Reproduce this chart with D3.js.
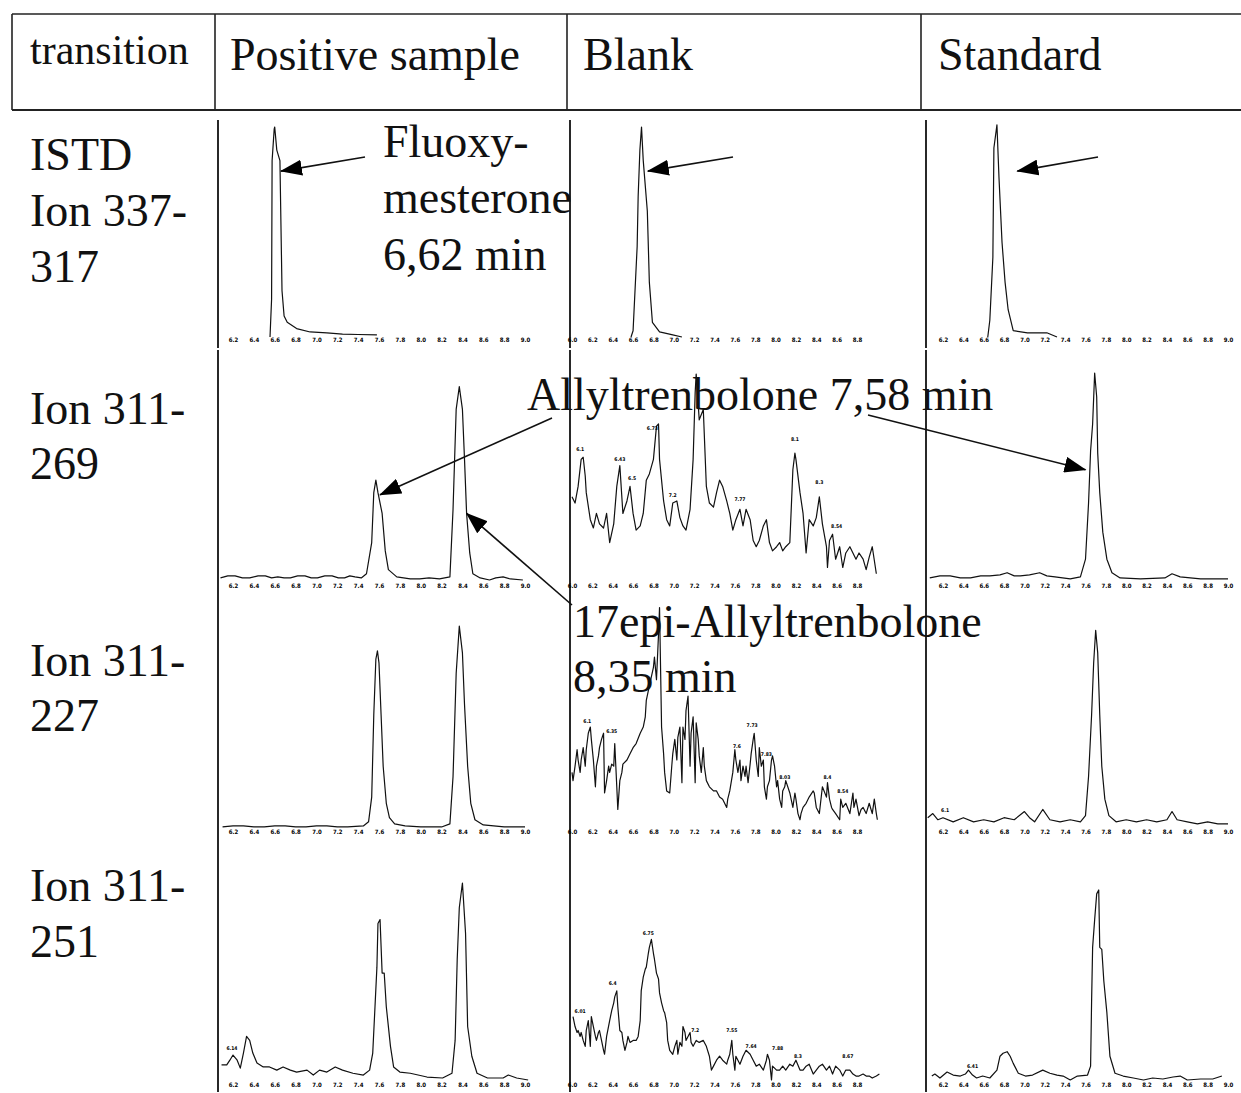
<!DOCTYPE html>
<html>
<head>
<meta charset="utf-8">
<title>Allyltrenbolone transitions</title>
<script src="https://cdn.jsdelivr.net/npm/d3@7/dist/d3.min.js"></script>
<style>
  body { margin: 0; background: #fff; }
  .big { font-family: "Liberation Serif", "Times New Roman", serif; fill: #111; }
  .tiny { font-family: "DejaVu Sans Condensed", "DejaVu Sans", sans-serif; font-weight: bold; fill: #000; }
</style>
</head>
<body>
<div id="fig"></div>
<script>
// header and row labels
var columns = ["transition", "Positive sample", "Blank", "Standard"];
var rowLabels = [["ISTD", "Ion 337-", "317"], ["Ion 311-", "269"], ["Ion 311-", "227"], ["Ion 311-", "251"]];

// retention time ticks (min)
var ticksPos = [6.2, 6.4, 6.6, 6.8, 7.0, 7.2, 7.4, 7.6, 7.8, 8.0, 8.2, 8.4, 8.6, 8.8, 9.0];
var ticksBlank = [6.0, 6.2, 6.4, 6.6, 6.8, 7.0, 7.2, 7.4, 7.6, 7.8, 8.0, 8.2, 8.4, 8.6, 8.8];
var ticksStd = [6.2, 6.4, 6.6, 6.8, 7.0, 7.2, 7.4, 7.6, 7.8, 8.0, 8.2, 8.4, 8.6, 8.8, 9.0];

// chromatograms: [time (min), relative intensity (%)]
// ISTD 337-317
var posIstd = [[6.555,0],[6.57,18],[6.575,84],[6.595,99],[6.60,100],[6.62,89],[6.65,84],[6.67,22],[6.69,10],[6.72,7],[6.81,4],[6.94,2.4],[7.1,2],[7.25,1.4],[7.4,1.2],[7.58,1]];
var blankIstd = [[6.58,0],[6.60,3],[6.64,43],[6.65,67],[6.667,89],[6.683,100],[6.70,84],[6.74,60],[6.76,26],[6.79,7],[6.86,2.4],[6.99,1],[7.08,0]];
var stdIstd = [[6.64,0],[6.66,8],[6.69,38],[6.70,90],[6.73,101],[6.75,76],[6.78,45],[6.81,26],[6.84,13],[6.89,3],[7.03,2],[7.22,2],[7.32,0]];

// 311-269
var pos269 = [[6.08,1],[6.15,2],[6.22,2],[6.29,1],[6.36,1],[6.44,2],[6.51,2],[6.57,1],[6.63,1.5],[6.69,1],[6.75,1],[6.82,2],[6.89,2],[6.95,1],[7.01,1],[7.08,2],[7.15,2],[7.21,1],[7.27,1],[7.32,2],[7.37,1.5],[7.43,1],[7.48,3],[7.53,18],[7.55,42],[7.57,48],[7.59,42],[7.63,32],[7.66,14],[7.69,5],[7.77,1.5],[7.90,0.5],[7.99,0.5],[8.08,1],[8.18,0.5],[8.28,1.5],[8.31,34],[8.34,82],[8.37,93],[8.40,82],[8.42,58],[8.44,32],[8.47,13],[8.50,3],[8.57,1],[8.66,0],[8.72,1],[8.79,1.5],[8.86,0.5],[8.98,0]];
var blank269 = [[6.00,40],[6.03,37],[6.06,45],[6.09,58],[6.11,59],[6.13,50],[6.14,42],[6.18,29],[6.21,25],[6.24,32],[6.27,27],[6.31,25],[6.34,32],[6.37,18],[6.41,27],[6.44,45],[6.47,55],[6.50,32],[6.54,38],[6.57,45],[6.60,32],[6.63,24],[6.67,26],[6.70,32],[6.73,48],[6.76,51],[6.80,58],[6.83,74],[6.85,75],[6.86,58],[6.90,38],[6.93,29],[6.96,26],[6.99,37],[7.03,38],[7.06,30],[7.09,26],[7.12,24],[7.16,34],[7.19,58],[7.21,90],[7.22,99],[7.25,77],[7.29,82],[7.32,45],[7.35,37],[7.39,35],[7.42,42],[7.45,48],[7.48,45],[7.52,38],[7.55,32],[7.58,24],[7.61,29],[7.65,34],[7.68,26],[7.71,34],[7.75,29],[7.78,19],[7.81,16],[7.84,19],[7.88,26],[7.91,29],[7.94,18],[7.97,14],[8.01,16],[8.04,18],[8.07,14],[8.10,16],[8.14,18],[8.17,53],[8.19,61],[8.20,58],[8.24,42],[8.27,32],[8.30,13],[8.33,29],[8.37,26],[8.40,30],[8.43,40],[8.46,27],[8.50,16],[8.51,6],[8.53,19],[8.56,22],[8.59,10],[8.63,16],[8.66,6],[8.69,13],[8.73,16],[8.76,13],[8.79,10],[8.82,13],[8.86,10],[8.89,5],[8.92,11],[8.95,16],[8.99,3]];
var std269 = [[6.07,1],[6.17,2],[6.27,2],[6.37,1],[6.47,1],[6.57,2],[6.66,2],[6.76,2.5],[6.83,3.5],[6.90,2],[6.96,2],[7.05,2.5],[7.15,3.5],[7.22,2],[7.30,1.5],[7.45,0.5],[7.55,1.5],[7.60,10],[7.63,37],[7.65,62],[7.67,75],[7.69,99.5],[7.71,88],[7.72,61],[7.74,42],[7.77,23],[7.81,10],[7.86,3.5],[7.94,1],[8.14,0.5],[8.38,1],[8.45,3],[8.53,1.5],[8.73,0.5],[9.0,0.5]];

// 311-227
var pos227 = [[6.1,0.5],[6.2,1],[6.3,1],[6.4,0.5],[6.5,0.5],[6.6,1],[6.7,1],[6.8,0.5],[6.9,0.5],[7.0,1],[7.1,1],[7.2,0.5],[7.3,0.5],[7.45,1],[7.50,3],[7.53,15],[7.55,55],[7.57,82],[7.585,86],[7.60,80],[7.62,55],[7.64,30],[7.67,12],[7.70,5],[7.75,2],[7.85,1],[8.0,0.5],[8.2,0.5],[8.28,2],[8.31,25],[8.34,75],[8.37,98],[8.40,85],[8.42,60],[8.45,30],[8.48,12],[8.52,4],[8.6,1.5],[8.8,0.5],[9.0,0.5]];
var blank227 = [[6.00,27],[6.01,23],[6.03,30],[6.05,38],[6.06,33],[6.08,27],[6.09,33],[6.11,39],[6.13,30],[6.14,38],[6.16,46],[6.18,49],[6.19,43],[6.21,33],[6.23,20],[6.24,30],[6.26,35],[6.27,39],[6.29,43],[6.31,46],[6.32,17],[6.34,23],[6.36,30],[6.37,27],[6.39,31],[6.41,30],[6.42,41],[6.44,20],[6.45,9],[6.47,23],[6.49,27],[6.50,31],[6.54,33],[6.57,36],[6.60,39],[6.63,41],[6.67,46],[6.70,49],[6.72,54],[6.73,62],[6.76,69],[6.80,78],[6.81,83],[6.83,72],[6.85,94],[6.86,107],[6.88,49],[6.90,36],[6.91,27],[6.93,18],[6.96,17],[6.98,30],[6.99,36],[7.01,43],[7.03,33],[7.04,44],[7.06,49],[7.08,22],[7.09,49],[7.11,43],[7.12,57],[7.14,64],[7.16,30],[7.17,46],[7.19,54],[7.21,22],[7.22,51],[7.24,43],[7.25,35],[7.27,27],[7.29,39],[7.30,30],[7.32,23],[7.35,20],[7.39,18],[7.42,18],[7.45,15],[7.48,14],[7.52,10],[7.53,14],[7.55,18],[7.58,27],[7.60,38],[7.61,33],[7.63,27],[7.65,33],[7.66,23],[7.68,30],[7.70,25],[7.71,30],[7.73,22],[7.75,31],[7.76,36],[7.78,43],[7.79,46],[7.81,33],[7.83,25],[7.84,39],[7.86,30],[7.88,33],[7.89,20],[7.91,14],[7.92,20],[7.94,23],[7.96,33],[7.97,35],[7.99,30],[8.01,20],[8.02,23],[8.04,14],[8.06,10],[8.07,18],[8.09,20],[8.10,23],[8.14,17],[8.17,10],[8.19,17],[8.20,14],[8.22,7],[8.24,4],[8.25,7],[8.27,10],[8.30,12],[8.33,15],[8.37,18],[8.38,17],[8.40,10],[8.43,7],[8.46,20],[8.50,15],[8.51,22],[8.53,14],[8.55,10],[8.56,9],[8.59,7],[8.63,4],[8.64,14],[8.66,10],[8.69,12],[8.73,7],[8.76,17],[8.77,10],[8.79,14],[8.82,6],[8.84,9],[8.86,10],[8.89,7],[8.92,12],[8.95,7],[8.97,14],[8.99,7],[9.00,4]];
var std227 = [[6.05,5],[6.1,7],[6.15,4],[6.2,5],[6.3,3],[6.4,5],[6.5,3],[6.6,4],[6.7,3],[6.8,5],[6.9,4],[7.0,8],[7.05,5],[7.1,3],[7.18,9],[7.25,4],[7.35,3],[7.45,4],[7.55,3],[7.6,6],[7.63,25],[7.66,55],[7.68,80],[7.70,96],[7.72,85],[7.74,55],[7.76,30],[7.79,14],[7.83,6],[7.9,3],[8.0,4],[8.1,3],[8.2,4],[8.3,3],[8.4,4],[8.45,8],[8.5,4],[8.6,3],[8.7,2],[8.8,3],[8.9,2],[9.0,2]];

// 311-251
var pos251 = [[6.09,7.6],[6.14,7.6],[6.17,10],[6.20,12.6],[6.24,10],[6.27,6],[6.30,13.6],[6.33,22],[6.36,20],[6.39,13.6],[6.43,8.6],[6.49,6.6],[6.55,6.6],[6.62,5],[6.68,6.6],[6.75,5],[6.81,4],[6.91,5],[6.97,2.5],[7.03,5],[7.10,4],[7.18,6.6],[7.25,5],[7.35,3.4],[7.45,2.5],[7.51,5],[7.54,13.6],[7.58,57],[7.59,79],[7.61,81],[7.63,54],[7.65,54],[7.67,37],[7.71,17],[7.74,6.6],[7.80,4],[7.90,3.4],[8.06,1.5],[8.21,1],[8.30,3.4],[8.33,20],[8.35,61],[8.37,87],[8.40,99.5],[8.43,74],[8.45,27],[8.49,12],[8.54,3.4],[8.64,1],[8.79,1],[8.84,2.5],[8.92,1],[9.03,0]];
var blank251 = [[6.01,32],[6.03,27],[6.05,24],[6.06,25],[6.08,22],[6.09,24],[6.11,20],[6.13,17],[6.14,25],[6.16,30],[6.18,17],[6.19,32],[6.21,27],[6.23,22],[6.24,20],[6.26,24],[6.27,25],[6.29,20],[6.31,15],[6.32,13],[6.34,22],[6.37,30],[6.39,35],[6.41,39],[6.42,42],[6.44,45],[6.45,37],[6.47,25],[6.49,24],[6.50,20],[6.52,15],[6.54,19],[6.55,22],[6.57,19],[6.60,20],[6.63,20],[6.65,22],[6.67,30],[6.68,45],[6.70,52],[6.72,56],[6.73,57],[6.75,64],[6.76,67],[6.78,71],[6.80,64],[6.81,61],[6.83,54],[6.85,51],[6.86,44],[6.88,39],[6.90,35],[6.91,34],[6.93,29],[6.94,20],[6.96,15],[6.99,13],[7.01,17],[7.03,20],[7.04,13],[7.06,19],[7.08,17],[7.09,27],[7.11,24],[7.12,20],[7.16,24],[7.17,19],[7.19,17],[7.22,20],[7.25,19],[7.29,20],[7.32,17],[7.35,12],[7.37,5],[7.39,7],[7.42,10],[7.45,12],[7.48,10],[7.52,8],[7.53,10],[7.55,13],[7.57,20],[7.58,13],[7.60,5],[7.61,12],[7.65,8],[7.68,12],[7.71,15],[7.75,13],[7.78,10],[7.81,7],[7.84,8],[7.88,5],[7.91,10],[7.92,13],[7.94,10],[7.96,0],[7.97,7],[8.01,5],[8.04,5],[8.07,7],[8.10,5],[8.14,8],[8.17,7],[8.20,10],[8.24,5],[8.27,5],[8.30,7],[8.33,8],[8.37,3],[8.40,5],[8.43,7],[8.46,8],[8.50,5],[8.53,7],[8.56,3],[8.59,7],[8.63,5],[8.66,2],[8.69,5],[8.73,5],[8.76,3],[8.79,2],[8.82,2],[8.86,3],[8.89,2],[8.92,2],[8.95,1],[8.99,2],[9.02,3]];
var std251 = [[6.09,2],[6.12,3],[6.17,1],[6.24,4],[6.30,2.5],[6.37,2],[6.42,3],[6.45,5],[6.49,2.5],[6.53,1],[6.59,2],[6.66,1],[6.73,5],[6.76,12],[6.79,13.5],[6.83,14.3],[6.86,12],[6.89,8.4],[6.94,3.4],[7.01,2],[7.08,2.5],[7.18,5],[7.25,3.4],[7.32,2.5],[7.38,2],[7.45,0],[7.52,2],[7.62,2.5],[7.65,7],[7.66,40],[7.67,67],[7.69,81],[7.71,94],[7.73,96],[7.74,67],[7.76,66],[7.78,50],[7.81,34],[7.84,12],[7.89,3.4],[7.97,2],[8.07,1],[8.17,0],[8.26,1],[8.36,0.5],[8.46,1.5],[8.53,2],[8.60,0],[8.73,0.5],[8.85,0.5],[8.94,2]];

// small retention time labels printed on the traces: [time, level, text]
var blank269Labels = [[6.08,62,"6.1"],[6.47,57,"6.43"],[6.59,48,"6.5"],[6.79,72,"6.73"],[6.99,40,"7.2"],[7.65,38,"7.77"],[8.19,67,"8.1"],[8.43,46,"8.3"],[8.60,25,"8.54"]];
var blank227Labels = [[6.15,51,"6.1"],[6.39,46,"6.35"],[7.62,39,"7.6"],[7.77,49,"7.73"],[7.91,35,"7.83"],[8.09,24,"8.03"],[8.51,24,"8.4"],[8.66,17,"8.54"]];
var blank251Labels = [[6.08,34,"6.01"],[6.40,48,"6.4"],[6.75,73,"6.75"],[7.21,24,"7.2"],[7.57,24,"7.55"],[7.76,16,"7.64"],[8.02,15,"7.88"],[8.22,11,"8.3"],[8.71,11,"8.67"]];
var pos251Labels = [[6.19,15,"6.14"]];
var std227Labels = [[6.22,8,"6.1"]];
var std251Labels = [[6.49,6,"6.41"]];

var W = 1241, H = 1093;
var svg = d3.select("#fig").append("svg").attr("width", W).attr("height", H);

// arrow head
svg.append("defs").append("marker")
  .attr("id", "ah").attr("viewBox", "0 0 22 16")
  .attr("refX", 21).attr("refY", 8)
  .attr("markerWidth", 22).attr("markerHeight", 16)
  .attr("markerUnits", "userSpaceOnUse").attr("orient", "auto")
  .append("path").attr("d", "M0,0L22,8L0,16Z").attr("fill", "#000");

// header table
var hdr = svg.append("g").attr("stroke", "#222").attr("stroke-width", 1.6);
hdr.append("line").attr("x1", 12).attr("x2", W).attr("y1", 14).attr("y2", 14);
hdr.append("line").attr("x1", 12).attr("x2", W).attr("y1", 110).attr("y2", 110).attr("stroke-width", 2.2);
[12, 215, 567, 921].forEach(function(x) {
  hdr.append("line").attr("x1", x).attr("x2", x).attr("y1", 14).attr("y2", 110);
});
var hx = [30, 230, 583, 938];
columns.forEach(function(c, i) {
  svg.append("text").attr("class", "big")
    .attr("x", hx[i]).attr("y", i == 0 ? 64 : 70)
    .style("font-size", i == 0 ? "42px" : "46px")
    .text(c);
});

// row labels
var rowBase = [[170, 226, 282], [424, 479], [676, 731], [901, 957]];
rowLabels.forEach(function(lines, r) {
  lines.forEach(function(t, k) {
    svg.append("text").attr("class", "big")
      .attr("x", 30).attr("y", rowBase[r][k])
      .style("font-size", "46px").text(t);
  });
});

// cell geometry
var colGeo = [
  { axisX: 218, t0: 6.2, t1: 9.0, x0: 233, x1: 525, ticks: ticksPos },
  { axisX: 570, t0: 6.0, t1: 8.8, x0: 572, x1: 857, ticks: ticksBlank },
  { axisX: 926, t0: 6.2, t1: 9.0, x0: 943, x1: 1228, ticks: ticksStd }
];
var rowGeo = [
  { y0: 337, y100: 127, tickY: 338, top: 120, bottom: 348 },
  { y0: 580, y100: 372, tickY: 584, top: 350, bottom: 597 },
  { y0: 828, y100: 622, tickY: 830, top: 597, bottom: 845 },
  { y0: 1080, y100: 882, tickY: 1083, top: 845, bottom: 1092 }
];
var traces = [
  [posIstd, blankIstd, stdIstd],
  [pos269, blank269, std269],
  [pos227, blank227, std227],
  [pos251, blank251, std251]
];
var traceLabels = [
  [[], [], []],
  [[], blank269Labels, []],
  [[], blank227Labels, std227Labels],
  [pos251Labels, blank251Labels, std251Labels]
];

var scales = [];
rowGeo.forEach(function(rg, r) {
  scales.push([]);
  colGeo.forEach(function(cg, c) {
    var x = d3.scaleLinear().domain([cg.t0, cg.t1]).range([cg.x0, cg.x1]);
    var y = d3.scaleLinear().domain([0, 100]).range([rg.y0, rg.y100]);
    scales[r].push({ x: x, y: y });
    var g = svg.append("g");

    // intensity axis (bare vertical line)
    g.append("line").attr("x1", cg.axisX).attr("x2", cg.axisX)
      .attr("y1", rg.top).attr("y2", rg.bottom)
      .attr("stroke", "#111").attr("stroke-width", 1.8);

    // time axis: tiny labels only
    var ax = g.append("g").attr("transform", "translate(0," + rg.tickY + ")")
      .call(d3.axisBottom(x).tickValues(cg.ticks).tickSize(0).tickPadding(0).tickFormat(d3.format(".1f")));
    ax.select(".domain").remove();
    ax.selectAll("text").attr("class", "tiny").attr("fill", "#000")
      .style("font-size", "6px");

    var line = d3.line().x(function(d) { return x(d[0]); }).y(function(d) { return y(d[1]); });
    g.append("path").datum(traces[r][c]).attr("d", line)
      .attr("fill", "none").attr("stroke", "#111").attr("stroke-width", 1.2)
      .attr("stroke-linejoin", "round");

    g.selectAll("text.pk").data(traceLabels[r][c]).enter().append("text")
      .attr("class", "pk tiny")
      .attr("x", function(d) { return x(d[0]); })
      .attr("y", function(d) { return y(d[1]); })
      .attr("text-anchor", "middle")
      .style("font-size", "5px")
      .text(function(d) { return d[2]; });
  });
});

// compound annotations
var notes = [
  { x: 383, y: 157, t: "Fluoxy-" },
  { x: 383, y: 213, t: "mesterone" },
  { x: 383, y: 270, t: "6,62 min" },
  { x: 527, y: 410, t: "Allyltrenbolone 7,58 min" },
  { x: 573, y: 637, t: "17epi-Allyltrenbolone" },
  { x: 573, y: 692, t: "8,35 min" }
];
notes.forEach(function(n) {
  svg.append("text").attr("class", "big").attr("x", n.x).attr("y", n.y)
    .style("font-size", "46px").text(n.t);
});

// arrows: start in page pixels, tip at [row, col, time, level]
var arrows = [
  { sx: 365, sy: 157, tip: [0, 0, 6.66, 79] },
  { sx: 733, sy: 157, tip: [0, 1, 6.745, 79] },
  { sx: 1098, sy: 157, tip: [0, 2, 6.93, 79] },
  { sx: 552, sy: 418, tip: [1, 0, 7.61, 41] },
  { sx: 868, sy: 415, tip: [1, 2, 7.60, 53] },
  { sx: 572, sy: 605, tip: [1, 0, 8.44, 32] }
];
arrows.forEach(function(a) {
  var s = scales[a.tip[0]][a.tip[1]];
  svg.append("line")
    .attr("x1", a.sx).attr("y1", a.sy)
    .attr("x2", s.x(a.tip[2])).attr("y2", s.y(a.tip[3]))
    .attr("stroke", "#111").attr("stroke-width", 1.6)
    .attr("marker-end", "url(#ah)");
});
</script>
</body>
</html>
